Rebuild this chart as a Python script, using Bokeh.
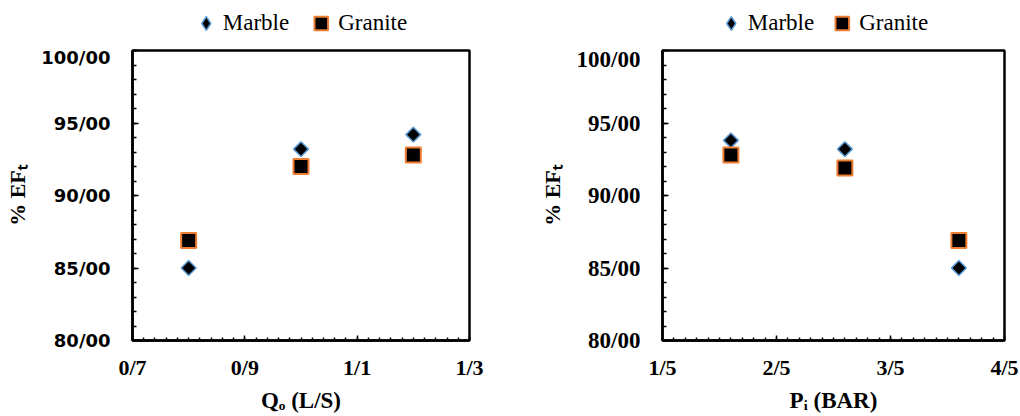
import math
import numpy as np
from bokeh.plotting import figure
from bokeh.models import FixedTicker, Legend, LegendItem, Range1d, Spacer
from bokeh.layouts import row, column
from bokeh.embed import file_html
from bokeh.resources import INLINE

# ---- data ----
q_flow = [0.8, 1.0, 1.2]
marble_q = [85.0, 93.2, 94.2]
granite_q = [86.9, 92.0, 92.8]

p_in = [2.1, 3.1, 4.1]
marble_p = [93.8, 93.2, 85.0]
granite_p = [92.8, 91.9, 86.9]

series_names = ["Marble", "Granite"]
y_ticks = [80, 85, 90, 95, 100]
y_tick_labels = ["80/00", "85/00", "90/00", "95/00", "100/00"]
q_ticks = [0.7, 0.9, 1.1, 1.3]
q_tick_labels = ["0/7", "0/9", "1/1", "1/3"]
p_ticks = [1.5, 2.5, 3.5, 4.5]
p_tick_labels = ["1/5", "2/5", "3/5", "4/5"]
y_title = "% EF\u209c"
q_title = "Q\u2092 (L/S)"
p_title = "P\u1d62 (BAR)"

SERIF = "Liberation Serif"
BLUE = "#5B9BD5"
ORANGE = "#ED7D31"


def make_legend_fig(x, marble, granite, width, leg_spacing):
    # legend-only figure: the series are drawn outside its (empty) ranges,
    # so only the legend entries are visible
    lf = figure(width=width, height=46, x_range=Range1d(0, 0.01), y_range=Range1d(0, 0.01),
                output_backend="svg", toolbar_location=None, min_border=0,
                x_axis_location=None, y_axis_location=None)
    lf.outline_line_color = None
    lf.xgrid.visible = False
    lf.ygrid.visible = False
    lf.border_fill_color = "white"
    lf.background_fill_color = "white"
    r_m = lf.scatter(x, marble, marker="diamond", size=14,
                     fill_color="black", line_color=BLUE, line_width=1.5)
    r_g = lf.scatter(x, granite, marker="square", size=14,
                     fill_color="black", line_color=ORANGE, line_width=2)
    leg = Legend(items=[LegendItem(label=series_names[0], renderers=[r_m]),
                        LegendItem(label=series_names[1], renderers=[r_g])],
                 location="center", orientation="horizontal",
                 glyph_width=34, glyph_height=34, label_standoff=-9,
                 spacing=leg_spacing, padding=0, margin=0,
                 border_line_alpha=0, background_fill_alpha=0,
                 label_text_font=SERIF, label_text_font_size="23px",
                 label_text_color="black")
    lf.add_layout(leg)
    return lf


def make_panel(x, marble, granite, xr, xticks, xlabels, xminor_step,
               ytick_font, ytick_size, b_left, b_right, xtitle, ylab_standoff):
    p = figure(width=510, height=370, x_range=Range1d(*xr), y_range=Range1d(80, 100),
               output_backend="svg", toolbar_location=None,
               min_border_left=b_left, min_border_right=b_right,
               min_border_top=4, min_border_bottom=76)
    p.background_fill_color = "white"
    p.border_fill_color = "white"
    p.outline_line_color = "black"
    p.outline_line_width = 2.5
    p.xgrid.visible = False
    p.ygrid.visible = False

    minor_x = list(np.round(np.arange(xr[0], xr[1] + 1e-9, xminor_step), 4))
    p.xaxis.ticker = FixedTicker(ticks=xticks, minor_ticks=minor_x)
    p.xaxis.major_label_overrides = {t: l for t, l in zip(xticks, xlabels)}
    p.xaxis.major_label_text_font = SERIF
    p.xaxis.major_label_text_font_style = "bold"
    p.xaxis.major_label_text_font_size = "22px"
    p.xaxis.major_label_text_color = "black"
    p.xaxis.major_label_standoff = 14
    p.xaxis.major_tick_in = 5
    p.xaxis.major_tick_out = 0
    p.xaxis.minor_tick_in = 3
    p.xaxis.minor_tick_out = 0
    p.xaxis.axis_line_width = 2.5
    p.xaxis.major_tick_line_width = 1.5
    p.xaxis.minor_tick_line_width = 1.5
    p.xaxis.axis_label = xtitle
    p.xaxis.axis_label_text_font = SERIF
    p.xaxis.axis_label_text_font_style = "bold"
    p.xaxis.axis_label_text_font_size = "23px"
    p.xaxis.axis_label_text_color = "black"
    p.xaxis.axis_label_standoff = 5

    minor_y = list(range(80, 101))
    p.yaxis.ticker = FixedTicker(ticks=y_ticks, minor_ticks=minor_y)
    p.yaxis.major_label_overrides = {t: l for t, l in zip(y_ticks, y_tick_labels)}
    p.yaxis.major_label_text_font = ytick_font
    p.yaxis.major_label_text_font_style = "bold"
    p.yaxis.major_label_text_font_size = ytick_size
    p.yaxis.major_label_text_color = "black"
    p.yaxis.major_label_standoff = 22
    p.yaxis.major_tick_in = 6
    p.yaxis.major_tick_out = 0
    p.yaxis.minor_tick_in = 4
    p.yaxis.minor_tick_out = 0
    p.yaxis.axis_line_width = 2.5
    p.yaxis.major_tick_line_width = 1.5
    p.yaxis.minor_tick_line_width = 1.5
    p.yaxis.axis_label = y_title
    p.yaxis.axis_label_text_font = SERIF
    p.yaxis.axis_label_text_font_style = "bold"
    p.yaxis.axis_label_text_font_size = "22px"
    p.yaxis.axis_label_text_color = "black"
    p.yaxis.axis_label_standoff = ylab_standoff

    p.scatter(x, marble, marker="square", angle=math.pi / 4, size=10.5,
              fill_color="black", line_color=BLUE, line_width=1.5)
    p.scatter(x, granite, marker="square", size=15,
              fill_color="black", line_color=ORANGE, line_width=2)
    return p


p1 = make_panel(q_flow, marble_q, granite_q, (0.7, 1.3), q_ticks, q_tick_labels, 0.02,
                "DejaVu Sans", "18px", 132, 41, q_title, 8)
p2 = make_panel(p_in, marble_p, granite_p, (1.5, 4.5), p_ticks, p_tick_labels, 0.1,
                SERIF, "23px", 152, 16, p_title, 9)
l1 = make_legend_fig(q_flow, marble_q, granite_q, 240, 15)
l2 = make_legend_fig(p_in, marble_p, granite_p, 240, 11)

top1 = row(Spacer(width=178, height=46), l1, Spacer(width=92, height=46))
top2 = row(Spacer(width=191, height=46), l2, Spacer(width=79, height=46))
layout = row(column(top1, p1), column(top2, p2))
open("out.html", "w").write(file_html(layout, INLINE))
